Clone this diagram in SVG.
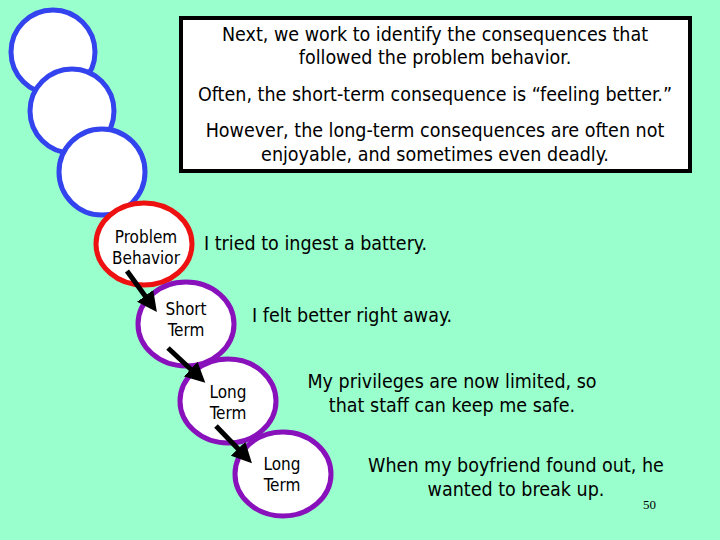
<svg xmlns="http://www.w3.org/2000/svg" width="720" height="540" viewBox="0 0 720 540">
<style>
text{font-family:"DejaVu Sans Condensed","DejaVu Sans",sans-serif;fill:#000}
.t{font-size:19.5px}
.n{font-size:17px;text-anchor:middle}
.c{stroke-width:5;fill:#fff}
.a{stroke:#000;stroke-width:5;fill:none;marker-end:url(#ah)}
</style>
<defs><marker id="ah" markerWidth="4" markerHeight="4" refX="2" refY="2" orient="auto"><path d="M0,0L4,2L0,4z" fill="#000"/></marker></defs>
<rect width="720" height="540" fill="#99ffcc"/>
<g id="box">
<rect x="181" y="18" width="509" height="153" fill="#fff" stroke="#000" stroke-width="4"/>
<g class="t" text-anchor="middle">
<text x="435" y="41">Next, we work to identify the consequences that</text>
<text x="435" y="64">followed the problem behavior.</text>
<text x="435" y="101">Often, the short-term consequence is “feeling better.”</text>
<text x="435" y="137">However, the long-term consequences are often not</text>
<text x="435" y="161">enjoyable, and sometimes even deadly.</text>
</g></g>
<g id="blue1"><circle cx="53" cy="52" r="42" class="c" stroke="#3344ee"/></g>
<g id="blue2"><circle cx="72" cy="111" r="42" class="c" stroke="#3344ee"/></g>
<g id="blue3"><circle cx="102" cy="172" r="43" class="c" stroke="#3344ee"/></g>
<g id="problem"><ellipse cx="144" cy="244" rx="48" ry="41" class="c" stroke="#ee1111"/>
<text class="n" x="146" y="243">Problem</text><text class="n" x="146" y="264">Behavior</text></g>
<g id="short"><ellipse cx="186" cy="324" rx="48" ry="42" class="c" stroke="#8811bb"/>
<text class="n" x="186" y="315">Short</text><text class="n" x="186" y="336">Term</text></g>
<g id="long1"><ellipse cx="228" cy="401" rx="48" ry="42" class="c" stroke="#8811bb"/>
<text class="n" x="228" y="398">Long</text><text class="n" x="228" y="419">Term</text></g>
<g id="long2"><ellipse cx="283" cy="474" rx="48" ry="42" class="c" stroke="#8811bb"/>
<text class="n" x="282" y="470">Long</text><text class="n" x="282" y="491">Term</text></g>
<g id="connectors">
<line class="a" x1="127" y1="271" x2="151" y2="304"/>
<line class="a" x1="168" y1="348" x2="198" y2="376"/>
<line class="a" x1="216" y1="426" x2="245" y2="456"/>
</g>
<g class="t">
<text x="204" y="250">I tried to ingest a battery.</text>
<text x="252" y="322">I felt better right away.</text>
<text x="452" y="388" text-anchor="middle">My privileges are now limited, so</text>
<text x="452" y="412" text-anchor="middle">that staff can keep me safe.</text>
<text x="516" y="472" text-anchor="middle">When my boyfriend found out, he</text>
<text x="516" y="496" text-anchor="middle">wanted to break up.</text>
</g>
<text x="643" y="509" style="font-family:'Liberation Serif',serif;font-size:13px">50</text>
</svg>
